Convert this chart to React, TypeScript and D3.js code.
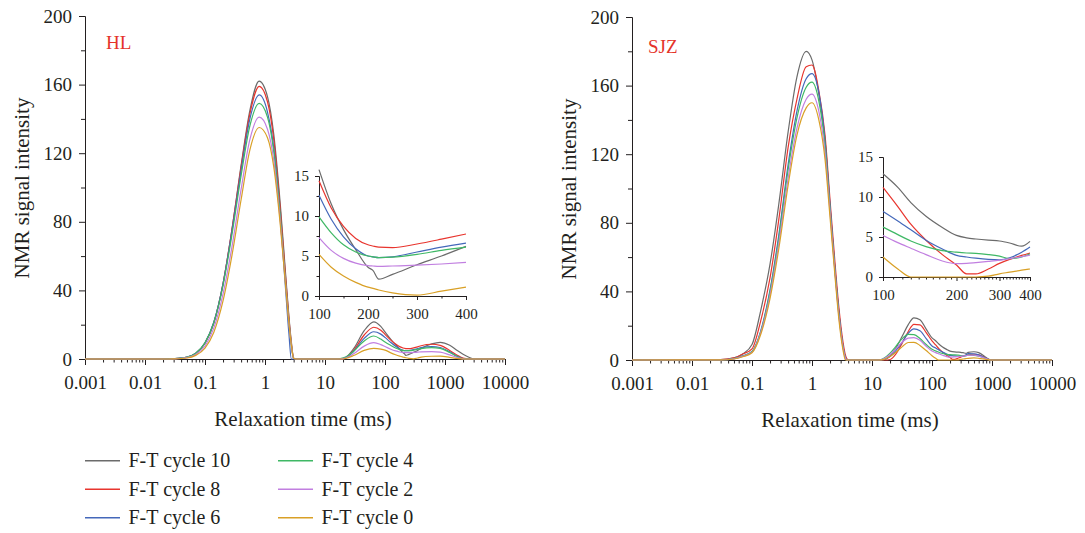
import React, { useEffect, useRef } from 'react';
import * as d3 from 'd3';

const CYCLES = ['F-T cycle 10', 'F-T cycle 8', 'F-T cycle 6', 'F-T cycle 4', 'F-T cycle 2', 'F-T cycle 0'];
const COLORS = ['#6b6b6b', '#e8352e', '#4468ba', '#3fb865', '#c17fe0', '#d9a026'];

const X_TICKS = [0.001, 0.01, 0.1, 1, 10, 100, 1000, 10000];
const X_LABELS = ['0.001', '0.01', '0.1', '1', '10', '100', '1000', '10000'];
const Y_TICKS = [0, 40, 80, 120, 160, 200];
const Y_MINOR = [20, 60, 100, 140, 180];
const INSET_X_TICKS = [100, 200, 300, 400];
const INSET_Y_TICKS = [0, 5, 10, 15];
const INSET_Y_MINOR = [2.5, 7.5, 12.5];

// HL sample: relaxation time grid (ms) and NMR signal per cycle
const T2_HL = [0.001, 0.02, 0.03, 0.05, 0.07, 0.1, 0.14, 0.2, 0.28, 0.4, 0.56, 0.8, 1.1, 1.4, 1.8, 2.2, 2.5, 2.75, 3.0, 3.3,
    10, 15, 18, 22, 30, 45, 65, 85, 100, 125, 150, 175, 200, 210, 222, 250, 300, 350, 400, 600, 830, 1200, 1600, 2000, 2500, 3000, 10000];
const HL_10 = [0, 0, 0.2, 1.0, 3.2, 9.2, 21, 44, 75, 113, 145, 162, 153, 131, 90, 50, 25, 10, 0.5, 0,
    0, 0, 0, 0.8, 6, 16.5, 21.7, 19, 15.8, 11.5, 8.3, 5.8, 3.6, 3.2, 2.1, 2.7, 3.9, 5.0, 6.2, 8.8, 9.7, 8.0, 5.0, 2.8, 1.0, 0, 0];
const HL_8 = [0, 0, 0.2, 1.0, 3.2, 9.3, 21, 44, 75, 112, 143, 159, 150, 128, 87, 48, 24, 9, 0.5, 0,
    0, 0, 0, 0.6, 5, 14, 18.5, 16.8, 14.4, 11.0, 8.7, 7.2, 6.4, 6.25, 6.1, 6.05, 6.5, 7.1, 7.75, 8.6, 7.9, 5.0, 2.2, 0.5, 0, 0, 0];
const HL_6 = [0, 0, 0.2, 1.1, 3.4, 9.5, 21.4, 44, 74, 110, 140, 154, 144, 123, 82, 41, 15, 0, 0, 0,
    0, 0, 0, 0.6, 4.5, 12, 15.9, 14.5, 12.6, 9.6, 7.4, 5.9, 5.0, 4.9, 4.8, 4.9, 5.5, 6.1, 6.6, 7.2, 6.7, 4.2, 1.6, 0.2, 0, 0, 0];
const HL_4 = [0, 0, 0.2, 1.1, 3.4, 9.4, 21, 43, 72, 107, 136, 149, 141, 121, 83, 45, 22, 8, 0.4, 0,
    0, 0, 0.3, 1.2, 4.5, 10.5, 13.4, 11.6, 9.9, 7.9, 6.4, 5.5, 5.0, 4.9, 4.8, 4.85, 5.2, 5.7, 6.1, 6.6, 6.2, 3.8, 1.4, 0.2, 0, 0, 0];
const HL_2 = [0, 0, 0.1, 0.8, 2.6, 7.6, 18, 38, 65, 99, 128, 141, 134, 116, 80, 44, 21, 8, 0.4, 0,
    0, 0, 0, 0.5, 3, 7.5, 9.5, 8.4, 7.3, 5.7, 4.7, 4.1, 3.8, 3.75, 3.7, 3.75, 3.85, 4.0, 4.2, 4.3, 4.0, 2.4, 0.9, 0.1, 0, 0, 0];
const HL_0 = [0, 0, 0.1, 0.6, 2.1, 6.4, 15.5, 34, 60, 93, 122, 135, 129, 112, 78, 43, 21, 8, 0.4, 0,
    0, 0, 0, 0.3, 2, 5, 6.2, 5.8, 5.2, 3.6, 2.5, 1.7, 1.1, 0.95, 0.75, 0.4, 0.12, 0.6, 1.1, 1.6, 1.7, 1.0, 0.3, 0, 0, 0, 0];

// SJZ sample
const T2_SJZ = [0.001, 0.03, 0.05, 0.07, 0.1, 0.14, 0.2, 0.28, 0.4, 0.56, 0.8, 1.0, 1.3, 1.65, 2.0, 2.4, 2.8, 3.3, 3.6, 3.8, 4.0,
    10, 13, 16, 20, 25, 32, 40, 50, 63, 80, 100, 115, 130, 150, 175, 200, 220, 240, 270, 300, 330, 370, 400, 500, 600, 800, 950, 10000];
const SJZ_10 = [0, 0.2, 1.2, 3.5, 9, 29, 56, 91, 133, 165, 180, 175, 155, 128, 89, 54, 28, 7.8, 1.5, 0, 0,
    0, 0, 0.3, 2.5, 7, 14, 20.5, 24.6, 23.5, 18, 12.9, 11.2, 9.3, 7.6, 6.2, 5.2, 4.9, 4.75, 4.6, 4.5, 4.25, 3.85, 4.45, 4.8, 4.3, 1.5, 0, 0];
const SJZ_8 = [0, 0.2, 1.2, 3.5, 6.5, 23, 48, 82, 124, 152, 171, 172, 157, 131, 93, 58, 31, 10, 3, 0.8, 0,
    0, 0, 0, 0.3, 3.5, 10, 16.5, 20.8, 20.5, 16, 11.2, 8.8, 6.6, 4.6, 2.8, 1.5, 0.4, 0.4, 1.0, 1.7, 2.2, 2.7, 3.0, 3.3, 3.0, 1.0, 0, 0];
const SJZ_6 = [0, 0.1, 0.8, 2.4, 5, 17, 41, 73, 114, 145, 164, 167, 156, 128, 90, 54, 28, 7.5, 1.5, 0, 0,
    0, 0, 0.3, 2, 5.5, 10.5, 15.5, 18.1, 17, 12.5, 8.2, 7.0, 5.9, 4.6, 3.5, 2.7, 2.5, 2.35, 2.2, 2.15, 2.4, 3.1, 3.75, 3.6, 3.0, 1.0, 0, 0];
const SJZ_4 = [0, 0.1, 0.8, 2.3, 4.8, 16.5, 40, 71, 111, 141, 159, 162, 151, 125, 88, 53, 27, 7.3, 1.5, 0, 0,
    0, 0, 1.2, 4, 8, 12.5, 15, 14.8, 12.5, 9, 6.25, 5.3, 4.5, 3.8, 3.3, 3.1, 3.0, 2.95, 2.8, 2.6, 2.3, 2.5, 2.9, 2.7, 2.2, 0.8, 0, 0];
const SJZ_2 = [0, 0.1, 0.7, 2.1, 4.5, 16, 38, 68, 106, 135, 152, 155, 145, 121, 86, 52, 26, 7, 1.2, 0, 0,
    0, 0, 0.8, 3.2, 6.5, 10.5, 12.8, 13.1, 11.5, 8, 5.2, 4.3, 3.6, 2.8, 2.0, 1.67, 1.7, 1.8, 1.95, 2.1, 2.3, 2.55, 2.75, 2.8, 2.3, 0.8, 0, 0];
const SJZ_0 = [0, 0.1, 0.6, 1.9, 4.2, 15, 36, 65, 102, 131, 147, 150, 140, 117, 83, 50, 24, 5.5, 0, 0, 0,
    0, 0, 0.4, 2, 4.5, 7.8, 10.2, 10.3, 8.5, 5.5, 2.5, 1.0, 0, 0, 0, 0, 0, 0, 0.1, 0.4, 0.6, 0.85, 1.0, 1.2, 1.0, 0.3, 0, 0];

const FONT = '"Liberation Serif", "DejaVu Serif", serif';
const INK = '#231f20';

function styleAxis(sel, size) {
    sel.attr('font-family', FONT).attr('font-size', size);
    sel.selectAll('path, line').attr('stroke', INK).attr('stroke-width', 1);
    sel.selectAll('text').attr('fill', INK);
}

function drawPanel(root, o) {
    const g = root.append('g');
    const x = d3.scaleLog().domain([0.001, 10000]).range([o.left, o.left + 420]);
    const y = d3.scaleLinear().domain([0, 200]).range([o.bottom, o.bottom - 343]);

    // main axes
    const minor = x.ticks().filter((v) => Math.abs(Math.log10(v) - Math.round(Math.log10(v))) > 1e-6);
    g.append('g')
        .attr('transform', `translate(0,${o.bottom})`)
        .call(d3.axisBottom(x).tickValues(minor).tickFormat(() => '').tickSize(3.5).tickSizeOuter(0))
        .call(styleAxis, 19);
    g.append('g')
        .attr('transform', `translate(0,${o.bottom})`)
        .call(d3.axisBottom(x).tickValues(X_TICKS).tickFormat((d, i) => X_LABELS[i]).tickSize(6).tickPadding(11).tickSizeOuter(0))
        .call(styleAxis, 19);
    g.append('g')
        .attr('transform', `translate(${o.left},0)`)
        .call(d3.axisLeft(y).tickValues(Y_MINOR).tickFormat(() => '').tickSize(4).tickSizeOuter(0))
        .call(styleAxis, 19);
    g.append('g')
        .attr('transform', `translate(${o.left},0)`)
        .call(d3.axisLeft(y).tickValues(Y_TICKS).tickSize(6).tickPadding(7).tickSizeOuter(0))
        .call(styleAxis, 19);

    // titles
    g.append('text')
        .attr('transform', `translate(${o.left - 63},${o.bottom - 171}) rotate(-90)`)
        .attr('text-anchor', 'middle')
        .attr('dominant-baseline', 'central')
        .attr('font-family', FONT)
        .attr('font-size', 21)
        .attr('fill', INK)
        .text('NMR signal intensity');
    g.append('text')
        .attr('x', o.left + 218)
        .attr('y', o.bottom + 67)
        .attr('text-anchor', 'middle')
        .attr('font-family', FONT)
        .attr('font-size', 21)
        .attr('fill', INK)
        .text('Relaxation time (ms)');
    g.append('text')
        .attr('x', o.labelX)
        .attr('y', o.labelY)
        .attr('font-family', FONT)
        .attr('font-size', 19)
        .attr('fill', '#e5332a')
        .text(o.label);

    const line = d3
        .line()
        .x((d) => x(d[0]))
        .y((d) => y(d[1]))
        .curve(d3.curveMonotoneX);
    o.series.forEach((vals, i) => {
        g.append('path')
            .datum(o.t2.map((t, j) => [t, vals[j]]))
            .attr('d', line)
            .attr('fill', 'none')
            .attr('stroke', COLORS[i])
            .attr('stroke-width', 1.2);
    });

    // inset
    const ins = o.inset;
    const xi = (ins.log ? d3.scaleLog() : d3.scaleLinear()).domain([100, 400]).range([ins.left, ins.left + 147]);
    const yi = d3.scaleLinear().domain([0, 15]).range([ins.bottom, ins.bottom - 120]);
    const xiMinor = ins.log ? d3.range(110, 400, 10).filter((v) => v % 100 !== 0) : [150, 250, 350];

    g.append('g')
        .attr('transform', `translate(0,${ins.bottom})`)
        .call(d3.axisBottom(xi).tickValues(xiMinor).tickFormat(() => '').tickSize(2.5).tickSizeOuter(0))
        .call(styleAxis, 15);
    g.append('g')
        .attr('transform', `translate(0,${ins.bottom})`)
        .call(d3.axisBottom(xi).tickValues(INSET_X_TICKS).tickFormat(d3.format('d')).tickSize(4).tickPadding(8).tickSizeOuter(0))
        .call(styleAxis, 15);
    g.append('g')
        .attr('transform', `translate(${ins.left},0)`)
        .call(d3.axisLeft(yi).tickValues(INSET_Y_MINOR).tickFormat(() => '').tickSize(2.5).tickSizeOuter(0))
        .call(styleAxis, 15);
    g.append('g')
        .attr('transform', `translate(${ins.left},0)`)
        .call(d3.axisLeft(yi).tickValues(INSET_Y_TICKS).tickSize(4).tickPadding(6).tickSizeOuter(0))
        .call(styleAxis, 15);

    const lineIn = d3
        .line()
        .x((d) => xi(d[0]))
        .y((d) => yi(d[1]))
        .curve(d3.curveMonotoneX);
    o.series.forEach((vals, i) => {
        const pts = o.t2.map((t, j) => [t, vals[j]]).filter((d) => d[0] >= 100 && d[0] <= 400);
        g.append('path')
            .datum(pts)
            .attr('d', lineIn)
            .attr('fill', 'none')
            .attr('stroke', COLORS[i])
            .attr('stroke-width', 1.2);
    });
}

export default function App() {
    const svgRef = useRef(null);

    useEffect(() => {
        const svg = d3.select(svgRef.current);
        svg.selectAll('*').remove();

        drawPanel(svg, {
            t2: T2_HL,
            series: [HL_10, HL_8, HL_6, HL_4, HL_2, HL_0],
            left: 85,
            bottom: 359,
            label: 'HL',
            labelX: 106,
            labelY: 49,
            inset: { left: 319, bottom: 296, log: false },
        });
        drawPanel(svg, {
            t2: T2_SJZ,
            series: [SJZ_10, SJZ_8, SJZ_6, SJZ_4, SJZ_2, SJZ_0],
            left: 632,
            bottom: 360,
            label: 'SJZ',
            labelX: 648,
            labelY: 53,
            inset: { left: 883, bottom: 277, log: true },
        });

        // legend, two columns of three
        const legend = svg.append('g');
        CYCLES.forEach((name, i) => {
            const col = Math.floor(i / 3);
            const row = i % 3;
            const lx = 85 + col * 193;
            const ly = 460.7 + row * 28.5;
            legend.append('line')
                .attr('x1', lx)
                .attr('x2', lx + 35)
                .attr('y1', ly)
                .attr('y2', ly)
                .attr('stroke', COLORS[i])
                .attr('stroke-width', 1.4);
            legend.append('text')
                .attr('x', lx + 43.5)
                .attr('y', ly + 6.3)
                .attr('font-family', FONT)
                .attr('font-size', 20)
                .attr('fill', INK)
                .text(name);
        });
    }, []);

    return (
        <svg
            ref={svgRef}
            width={1085}
            height={533}
            style={{ position: 'absolute', left: 0, top: 0, background: '#fff' }}
        />
    );
}
